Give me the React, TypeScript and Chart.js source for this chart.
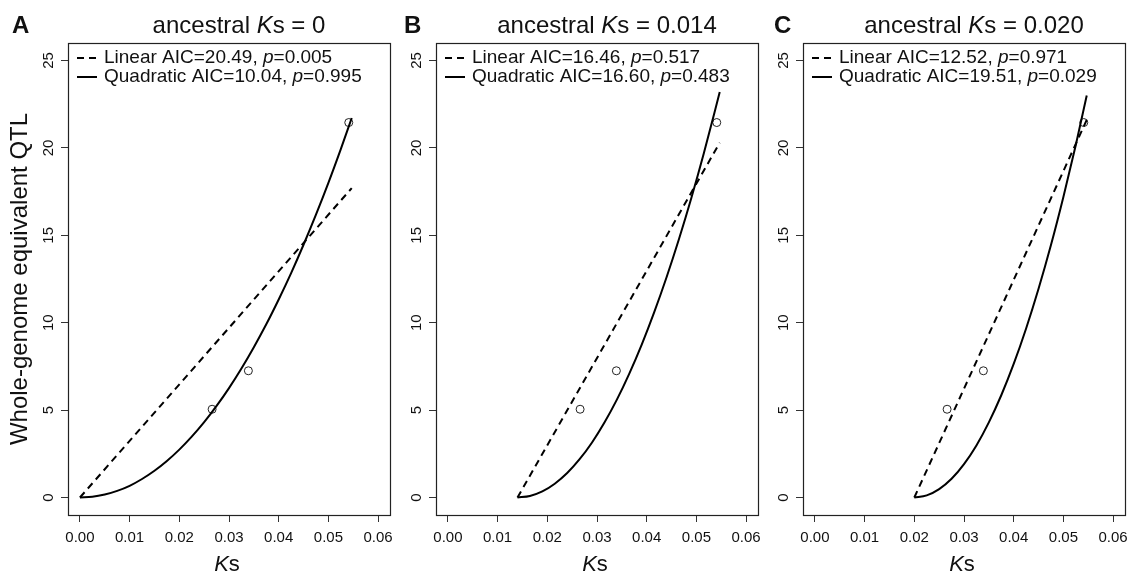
import React, { useEffect, useRef } from "react";
import { Chart, registerables } from "chart.js";
Chart.register(...registerables);

// ---------- data ----------
const panelLetters = ["A", "B", "C"];
const ancestralKs = ["0", "0.014", "0.020"];
const linearAIC = ["20.49", "16.46", "12.52"];
const linearP = ["0.005", "0.517", "0.971"];
const quadAIC = ["10.04", "16.60", "19.51"];
const quadP = ["0.995", "0.483", "0.029"];

const obsKs = [0.0266, 0.0339, 0.0541];
const obsQTL = [5.05, 7.25, 21.45];

const linKsA = [0, 0.0547];
const linQtlA = [0, 17.7];
const linKsB = [0.014, 0.0547];
const linQtlB = [0, 20.3];
const linKsC = [0.02, 0.0547];
const linQtlC = [0, 21.6];

const quadKsA = [0, 0.0025, 0.005, 0.0075, 0.01, 0.0125, 0.015, 0.0175, 0.02, 0.0225, 0.025, 0.0275, 0.03, 0.0325, 0.035, 0.0375, 0.04, 0.0425, 0.045, 0.0475, 0.05, 0.0525, 0.0547];
const quadQtlA = [0, 0.04, 0.17, 0.38, 0.67, 1.06, 1.53, 2.09, 2.74, 3.48, 4.31, 5.24, 6.26, 7.38, 8.6, 9.91, 11.33, 12.84, 14.46, 16.18, 18.0, 19.93, 21.71];
const quadKsB = [0.014, 0.0165, 0.019, 0.0215, 0.024, 0.0265, 0.029, 0.0315, 0.034, 0.0365, 0.039, 0.0415, 0.044, 0.0465, 0.049, 0.0515, 0.0547];
const quadQtlB = [0, 0.09, 0.35, 0.79, 1.4, 2.19, 3.15, 4.29, 5.6, 7.09, 8.75, 10.59, 12.6, 14.79, 17.15, 19.69, 23.19];
const quadKsC = [0.02, 0.0225, 0.025, 0.0275, 0.03, 0.0325, 0.035, 0.0375, 0.04, 0.0425, 0.045, 0.0475, 0.05, 0.0525, 0.0547];
const quadQtlC = [0, 0.12, 0.48, 1.07, 1.91, 2.98, 4.3, 5.85, 7.64, 9.67, 11.94, 14.44, 17.19, 20.17, 23.0];

const xTicks = [0, 0.01, 0.02, 0.03, 0.04, 0.05, 0.06];
const yTicks = [0, 5, 10, 15, 20, 25];

const linKs = [linKsA, linKsB, linKsC];
const linQtl = [linQtlA, linQtlB, linQtlC];
const quadKs = [quadKsA, quadKsB, quadKsC];
const quadQtl = [quadQtlA, quadQtlB, quadQtlC];

// ---------- layout ----------
const W = 1128;
const H = 573;
const PLOT_TOP = 43;
const PLOT_BOTTOM = 515;
const PANELS = [
  { canvasLeft: 0, plotLeft: 68, plotRight: 390, letterX: 12 },
  { canvasLeft: 395, plotLeft: 436, plotRight: 758, letterX: 404 },
  { canvasLeft: 765, plotLeft: 803, plotRight: 1125, letterX: 774 },
];
const FAMILY = '"Liberation Sans", Arial, Helvetica, sans-serif';
const INK = "#111";

const toPts = (xs: number[], ys: number[]) => xs.map((x, i) => ({ x, y: ys[i] }));

function drawRich(ctx: CanvasRenderingContext2D, parts: [string, string][], x: number, y: number, size: number, align: "left" | "center") {
  const widths = parts.map(([t, st]) => {
    ctx.font = `${st} ${size}px ${FAMILY}`;
    return ctx.measureText(t).width;
  });
  const total = widths.reduce((a, b) => a + b, 0);
  let cx = align === "center" ? x - total / 2 : x;
  ctx.textAlign = "left";
  parts.forEach(([t, st], i) => {
    ctx.font = `${st} ${size}px ${FAMILY}`;
    ctx.fillText(t, cx, y);
    cx += widths[i];
  });
}

function makeDecor(idx: number) {
  return {
    id: "decor" + idx,
    afterDraw(chart: any) {
      const ctx: CanvasRenderingContext2D = chart.ctx;
      const { left, right, top, bottom } = chart.chartArea;
      const p = PANELS[idx];
      ctx.save();
      // frame
      ctx.strokeStyle = "#222";
      ctx.lineWidth = 1.2;
      ctx.setLineDash([]);
      ctx.strokeRect(Math.round(left) + 0.5, Math.round(top) + 0.5, Math.round(right - left), Math.round(bottom - top));
      ctx.fillStyle = INK;
      ctx.textBaseline = "alphabetic";
      // panel letter
      ctx.font = `bold 24px ${FAMILY}`;
      ctx.textAlign = "left";
      ctx.fillText(panelLetters[idx], p.letterX - p.canvasLeft, 33);
      // title
      const cx = (left + right) / 2;
      drawRich(ctx, [["ancestral ", "normal"], ["K", "italic"], ["s = " + ancestralKs[idx], "normal"]], cx + 10, 33, 24, "center");
      // x-axis title
      drawRich(ctx, [["K", "italic"], ["s", "normal"]], cx - 2, 571, 22, "center");
      // legend
      const lx0 = left + 9;
      const lx1 = left + 29;
      const tx = left + 36;
      const rows = [58, 77];
      ctx.strokeStyle = "#000";
      ctx.lineWidth = 2;
      ctx.setLineDash([7, 5]);
      ctx.beginPath();
      ctx.moveTo(lx0, rows[0]);
      ctx.lineTo(lx1, rows[0]);
      ctx.stroke();
      ctx.setLineDash([]);
      ctx.beginPath();
      ctx.moveTo(lx0, rows[1]);
      ctx.lineTo(lx1, rows[1]);
      ctx.stroke();
      ctx.textBaseline = "middle";
      drawRich(ctx, [["Linear AIC=" + linearAIC[idx] + ", ", "normal"], ["p", "italic"], ["=" + linearP[idx], "normal"]], tx, rows[0], 19, "left");
      drawRich(ctx, [["Quadratic AIC=" + quadAIC[idx] + ", ", "normal"], ["p", "italic"], ["=" + quadP[idx], "normal"]], tx, rows[1], 19, "left");
      ctx.restore();
    },
  };
}

function Panel({ idx }: { idx: number }) {
  const ref = useRef<HTMLCanvasElement | null>(null);
  const p = PANELS[idx];
  const width = Math.ceil(p.plotRight + 20 - p.canvasLeft);
  useEffect(() => {
    if (!ref.current) return;
    const chart = new Chart(ref.current, {
      type: "scatter",
      data: {
        datasets: [
          {
            type: "line",
            data: toPts(linKs[idx], linQtl[idx]),
            borderColor: "#000",
            borderWidth: 2,
            borderDash: [7, 5],
            pointRadius: 0,
            fill: false,
          } as any,
          {
            type: "line",
            data: toPts(quadKs[idx], quadQtl[idx]),
            borderColor: "#000",
            borderWidth: 2,
            pointRadius: 0,
            cubicInterpolationMode: "monotone",
            fill: false,
          } as any,
          {
            type: "scatter",
            data: toPts(obsKs, obsQTL),
            pointRadius: 4,
            pointBorderWidth: 1,
            borderColor: "#222",
            backgroundColor: "rgba(0,0,0,0)",
          } as any,
        ],
      },
      options: {
        responsive: false,
        animation: false,
        devicePixelRatio: 1,
        layout: {
          padding: { left: 0, top: PLOT_TOP, right: width - (p.plotRight - p.canvasLeft), bottom: 0 },
        },
        plugins: { legend: { display: false }, tooltip: { enabled: false }, title: { display: false } },
        scales: {
          x: {
            type: "linear",
            min: -0.0024,
            max: 0.0624,
            afterBuildTicks: (s: any) => {
              s.ticks = xTicks.map((v) => ({ value: v }));
            },
            afterFit: (s: any) => {
              s.height = H - PLOT_BOTTOM;
            },
            ticks: {
              callback: (v: any) => Number(v).toFixed(2),
              font: { family: FAMILY, size: 15 },
              color: INK,
              padding: 7,
              minRotation: 0,
              maxRotation: 0,
              autoSkip: false,
            },
            grid: { drawOnChartArea: false, drawTicks: true, tickLength: 7, color: "#333", lineWidth: 1 },
            border: { display: false },
          },
          y: {
            type: "linear",
            min: -1,
            max: 26,
            afterBuildTicks: (s: any) => {
              s.ticks = yTicks.map((v) => ({ value: v }));
            },
            afterFit: (s: any) => {
              s.width = p.plotLeft - p.canvasLeft;
            },
            ticks: {
              callback: (v: any) => String(v),
              font: { family: FAMILY, size: 15 },
              color: INK,
              padding: 4,
              minRotation: 90,
              maxRotation: 90,
              crossAlign: "center",
              autoSkip: false,
            },
            grid: { drawOnChartArea: false, drawTicks: true, tickLength: 7, color: "#333", lineWidth: 1 },
            border: { display: false },
            title: {
              display: idx === 0,
              text: "Whole-genome equivalent QTL",
              font: { family: FAMILY, size: 24 },
              color: INK,
              padding: { top: 6, bottom: 0 },
            },
          },
        },
      } as any,
      plugins: [makeDecor(idx)],
    });
    return () => chart.destroy();
  }, []);
  return (
    <canvas
      ref={ref}
      width={width}
      height={H}
      style={{ position: "absolute", left: p.canvasLeft, top: 0, width, height: H }}
    />
  );
}

export default function App() {
  return (
    <div
      style={{
        position: "fixed",
        left: 0,
        top: 0,
        width: W,
        height: H,
        overflow: "hidden",
        background: "#fff",
      }}
    >
      {[0, 1, 2].map((i) => (
        <Panel key={i} idx={i} />
      ))}
    </div>
  );
}
